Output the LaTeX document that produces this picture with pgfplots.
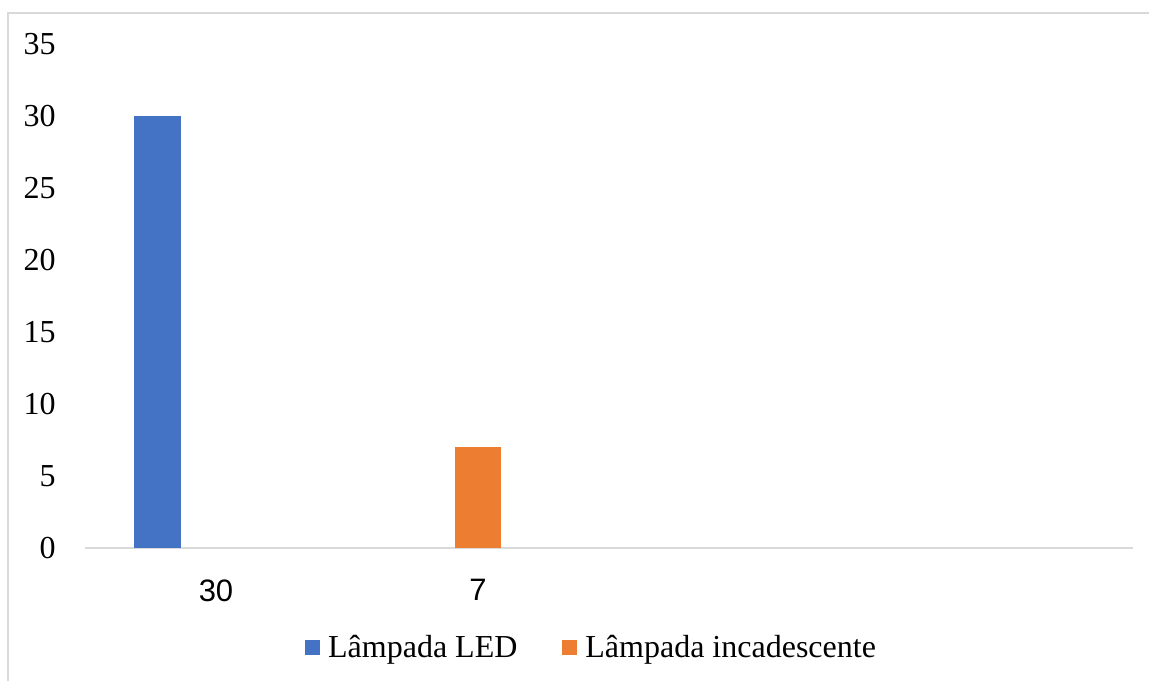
\documentclass[border=0pt]{standalone}
\usepackage{fontspec}
\setmainfont{Liberation Serif}
\newfontfamily\arialfont{Liberation Sans}
\usepackage{pgfplots}
\pgfplotsset{compat=1.18}
\definecolor{ledblue}{HTML}{4472C4}
\definecolor{incorange}{HTML}{ED7D31}
\definecolor{framegray}{HTML}{D9D9D9}
\begin{document}
\begin{tikzpicture}[x=1pt,y=1pt]
\useasboundingbox (0,0) rectangle (574.5,340);
% chart frame
\draw[framegray, line width=0.75pt] (4,-5) -- (4,333.5) -- (580,333.5);
\begin{axis}[
  at={(42.5pt,66pt)}, anchor=south west,
  scale only axis, width=524pt, height=252pt,
  xmin=0, xmax=4, ymin=0, ymax=35,
  ytick={0,5,...,35},
  xtick={0.5,1.5}, xticklabels={30,7},
  axis x line*=bottom, axis y line*=left,
  x axis line style={framegray, line width=0.75pt},
  y axis line style={draw=none},
  major tick length=0pt,
  /pgf/number format/assume math mode=true,
  yticklabel style={font=\fontsize{16}{19}\selectfont, inner sep=0pt, anchor=east, xshift=-14.5pt},
  xticklabel style={font=\arialfont\fontsize{15.5}{18}\selectfont, inner sep=0pt, anchor=north, yshift=-15.5pt},
  ybar, bar width=0.179,
  legend columns=2,
  legend style={at={(0.4843,-0.198)}, anchor=center, draw=none,
    font=\fontsize{16}{19}\selectfont,
    /tikz/every odd column/.append style={column sep=2pt},
    /tikz/every even column/.append style={column sep=20.5pt}},
  legend image code/.code={\fill[#1] (0pt,-3.75pt) rectangle (7.5pt,3.75pt);},
]
\addplot[fill=ledblue, draw=none, bar shift=0pt] coordinates {(0.277,30)};
\addlegendentry{Lâmpada LED}
\addplot[fill=incorange, draw=none, bar shift=0pt] coordinates {(1.5,7)};
\addlegendentry{Lâmpada incadescente}
\end{axis}
\end{tikzpicture}
\end{document}
